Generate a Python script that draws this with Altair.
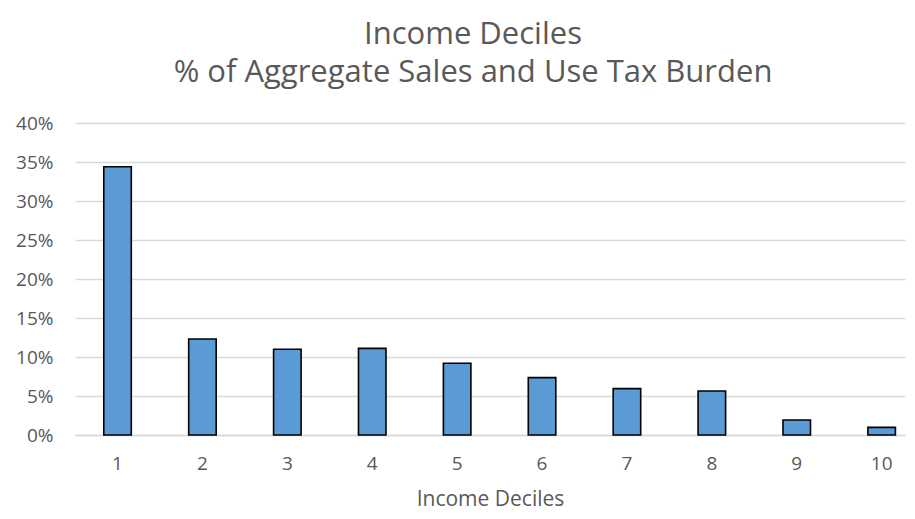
import altair as alt
import pandas as pd

deciles = ["1", "2", "3", "4", "5", "6", "7", "8", "9", "10"]
shares = [0.344, 0.123, 0.110, 0.111, 0.092, 0.0735, 0.0594, 0.0564, 0.0192, 0.0098]
y_ticks = [0, 0.05, 0.10, 0.15, 0.20, 0.25, 0.30, 0.35, 0.40]

df = pd.DataFrame({"decile": deciles, "share": shares})

FONT = "Open Sans"
GREY = "#595959"

chart = alt.Chart(df).mark_bar(
    color="#5B9BD5", stroke="#000000", strokeWidth=1.6
).encode(
    x=alt.X("decile:O", sort=deciles,
            scale=alt.Scale(paddingInner=0.676, paddingOuter=0.226, align=0.75),
            axis=alt.Axis(title="Income Deciles", labelAngle=0, ticks=False,
                          domain=True, domainColor="#d9d9d9", domainWidth=1.5,
                          labelFont=FONT, labelFontSize=19, labelColor=GREY,
                          labelPadding=19, titleFont=FONT, titleFontSize=21,
                          titleFontWeight="normal", titleColor=GREY, titlePadding=15)),
    y=alt.Y("share:Q", scale=alt.Scale(domain=[0, 0.40], nice=False),
            axis=alt.Axis(title=None, format=".0%", values=y_ticks, ticks=False,
                          domain=False, grid=True, gridColor="#d9d9d9", gridWidth=1.3,
                          labelFont=FONT, labelFontSize=19, labelColor=GREY,
                          labelPadding=22)),
).properties(
    width=830, height=312,
    autosize=alt.AutoSizeParams(type="none"),
    padding={"left": 67, "top": 115, "right": 2, "bottom": 76},
    title=alt.TitleParams(
        text=["Income Deciles", "% of Aggregate Sales and Use Tax Burden"],
        font=FONT, fontSize=31, fontWeight="normal", color=GREY,
        anchor="middle", frame="group", offset=25, lineHeight=38, dx=-17),
).configure_view(stroke=None)

chart.save("out.html", embed_options={"renderer": "svg", "actions": False})
